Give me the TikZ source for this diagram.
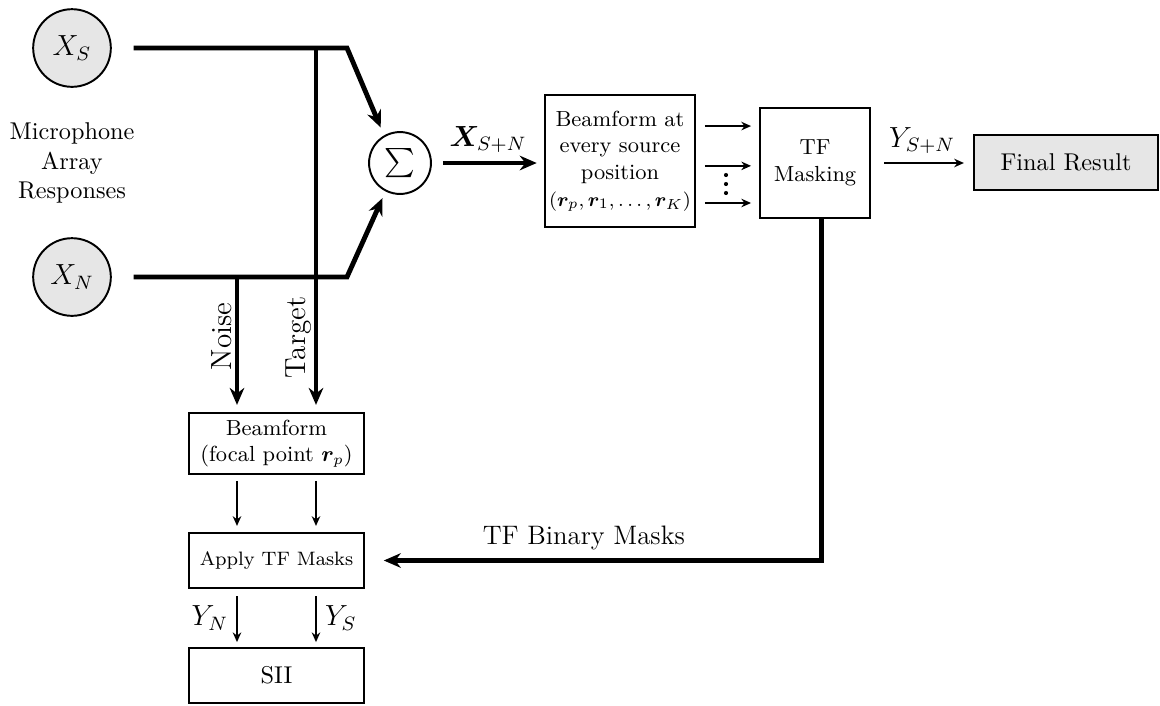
\documentclass[tikz,border=0pt]{standalone}
\usepackage{amsmath, amssymb}
\usepackage{bm}
\usetikzlibrary{arrows.meta}
\definecolor{srcGray}{RGB}{230, 230, 230}

\begin{document}
\begin{tikzpicture}[x=0.412pt, y=-0.412pt,
    box/.style={draw, line width=0.8pt, inner sep=0pt, align=center},
    src/.style={draw, circle, line width=0.8pt, fill=srcGray, minimum size=32pt, inner sep=0pt},
    bigarrow/.style={line width=2pt, -{Stealth[length=7pt, width=6pt]}, shorten >=3pt},
    smallarrow/.style={line width=0.8pt, -{Stealth[length=4pt, width=3.5pt]}, shorten >=2.5pt, shorten <=2.5pt}]
  \useasboundingbox (0,0) rectangle (1160,705);
  % Sources and sum
  \node[src] (xs) at (72,48) {\large $X_S$};
  \node[src] (xn) at (72,277) {\large $X_N$};
  \node[align=center] (mic) at (72,163) {Microphone\\Array\\Responses};
  \node[draw, circle, line width=0.8pt, minimum size=25.5pt, inner sep=0pt] (sum) at (400,163) {\large $\sum$};
  \coordinate (sjoin) at (347,48);
  \coordinate (njoin) at (347,277);
  \coordinate (ttap) at (316,48);
  \coordinate (ntap) at (237,277);
  % Blocks
  \node[box, font=\small, minimum width=72pt, minimum height=25pt] (bf) at (276.5,443.5) {Beamform\\(focal point $\bm{r}_p$)};
  \node[box, font=\footnotesize, minimum width=72pt, minimum height=22.7pt] (apply) at (276.5,560.5) {Apply TF Masks};
  \node[box, minimum width=72pt, minimum height=22.7pt] (sii) at (276.5,675.5) {SII};
  \node[box, font=\small, minimum width=61.8pt, minimum height=54.4pt] (bfa) at (620,161) {Beamform at\\every source\\position\\{\footnotesize$(\bm{r}_p,\bm{r}_1,\ldots,\bm{r}_K)$}};
  \node[box, font=\small, minimum size=45.3pt] (tfm) at (815,163) {TF\\Masking};
  \node[box, fill=srcGray, minimum width=75.5pt, minimum height=22.7pt] (final) at (1066,162.5) {Final Result};
  % Array responses
  \draw[bigarrow, shorten >=3.5pt] ([xshift=9pt]xs.east) -- (sjoin) -- (sum.120);
  \draw[bigarrow] ([xshift=9pt]xn.east) -- (njoin) -- (sum.243);
  \draw[bigarrow] (ntap) -- node[pos=0.44, rotate=90, anchor=south, inner sep=1pt] {\large Noise} (ntap |- bf.north);
  \draw[bigarrow] (ttap) -- node[pos=0.795, rotate=90, anchor=south, inner sep=1pt] {\large Target} (ttap |- bf.north);
  % Target/noise path
  \draw[smallarrow] (bf.south -| ntap) -- (apply.north -| ntap);
  \draw[smallarrow] (bf.south -| ttap) -- (apply.north -| ttap);
  \draw[smallarrow, shorten <=3pt, shorten >=2pt] (apply.south -| ntap) -- node[left] {\large $Y_N$} (sii.north -| ntap);
  \draw[smallarrow, shorten <=3pt, shorten >=2pt] (apply.south -| ttap) -- node[right] {\large $Y_S$} (sii.north -| ttap);
  % Mixture path
  \draw[bigarrow, shorten <=4.5pt] (sum.east) -- node[above] {\large $\bm{X}_{S+N}$} (sum.east -| bfa.west);
  \foreach \dy in {14.4pt, -2pt, -17.3pt}
    \draw[smallarrow, shorten <=3.7pt, shorten >=3.3pt] ([yshift=\dy]bfa.east) -- ([yshift=\dy]bfa.east -| tfm.west);
  \foreach \y in {175,184,193}
    \fill (726,\y) circle (0.85pt);
  \draw[smallarrow, shorten <=5.4pt, shorten >=3.9pt] (tfm.east) -- node[above] {\large $Y_{S+N}$} (tfm.east -| final.west);
  \draw[bigarrow, shorten >=7.8pt] ([xshift=2.5pt]tfm.south) |- node[above, pos=0.76] {\fontsize{11}{13}\selectfont TF Binary Masks} (apply.east);
\end{tikzpicture}
\end{document}
